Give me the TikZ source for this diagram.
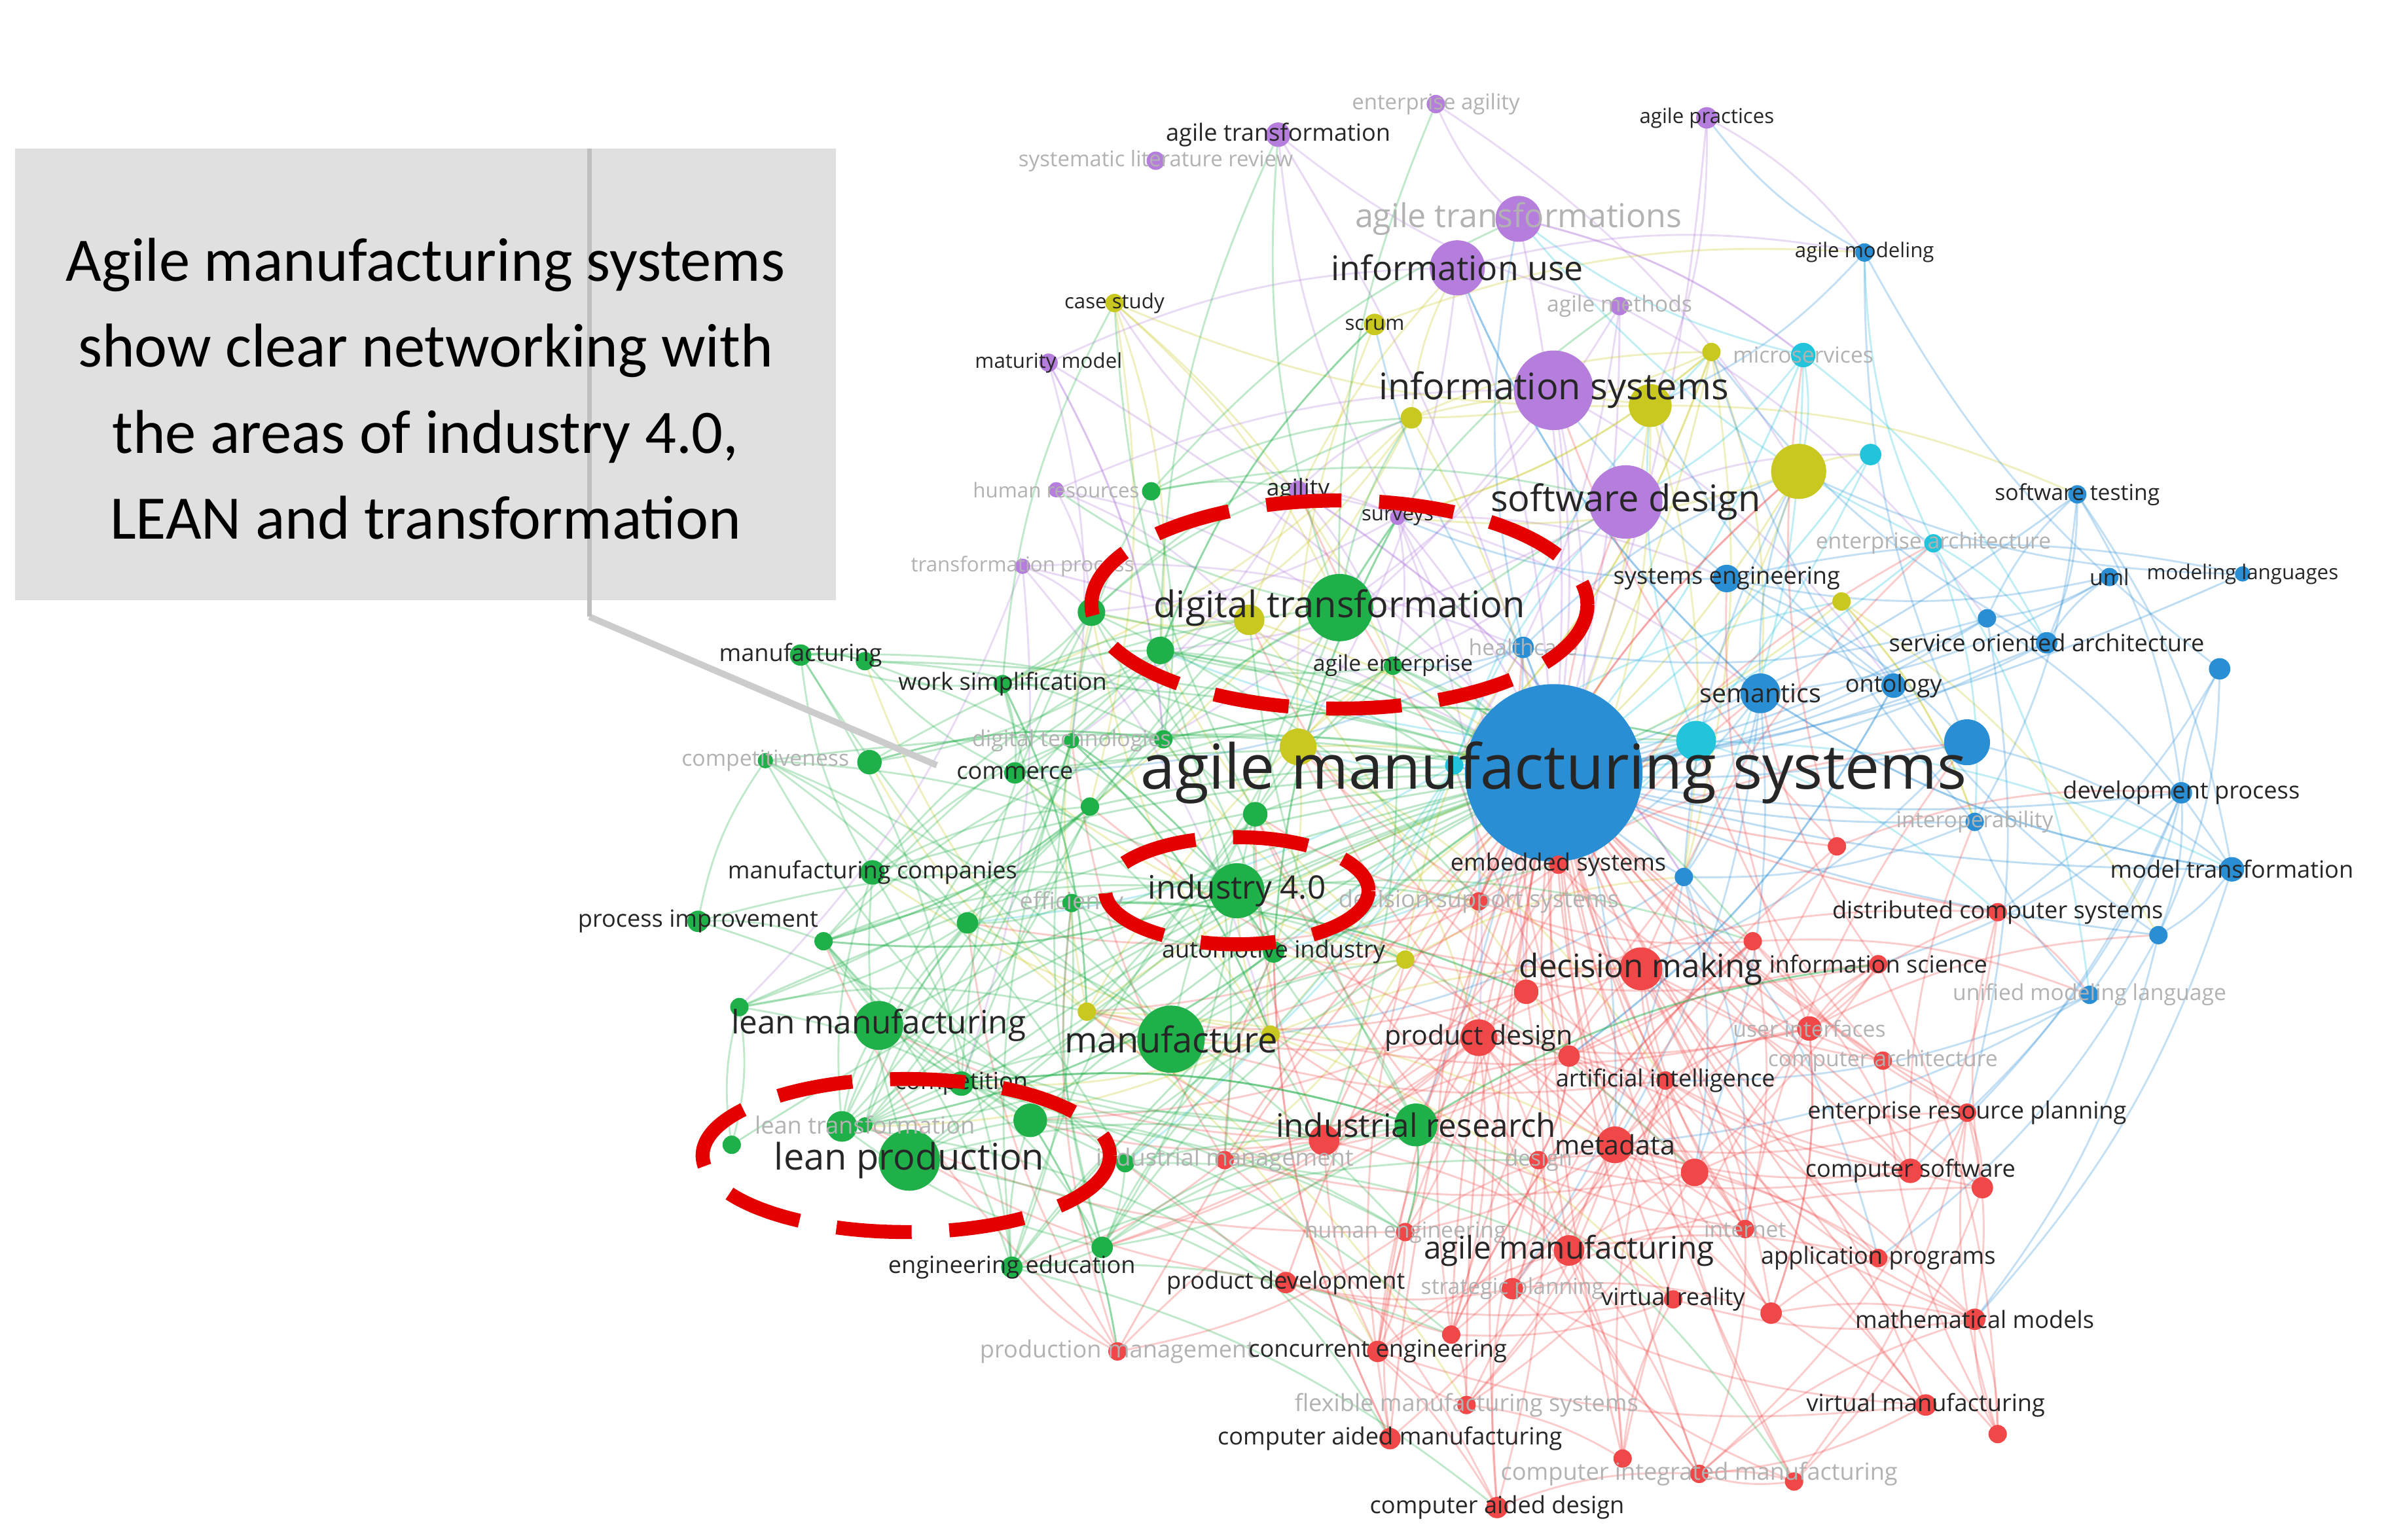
\documentclass[tikz,border=0pt]{standalone}
\usepackage{fontspec}
\setmainfont{Open Sans}
\newfontfamily\boxfont{Carlito}
\definecolor{cP}{HTML}{B57EDC}
\definecolor{cY}{HTML}{C8C820}
\definecolor{cC}{HTML}{22C4DC}
\definecolor{cB}{HTML}{2A8ED4}
\definecolor{cR}{HTML}{F04848}
\definecolor{cG}{HTML}{1FB04A}
\def\ff{f}
\def\kwlist{1015/505/58/cB/agile manufacturing systems/11.5/k,
835/88/8/cP/agile transformation/4.4/k, 938/68/6/cP/enterprise agility/4/f, 1115/77/7/cP/agile practices/3.8/k,
755/105/6/cP/systematic literature review/4/f, 992/143/15/cP/agile transformations/6.1/f, 952/175/18/cP/information use/6.3/k,
728/198/6/cY/case study/3.8/k, 898/212/7/cY/scrum/3.8/k, 1058/200/6/cP/agile methods/4.1/f, 685/237/6/cP/maturity model/3.8/k,
1015/255/26/cP/information systems/6.8/k, 1062/328/24/cP/software design/6.8/k, 848/320/6/cP/agility/4.3/k, 690/320/5/cP/human resources/3.8/f,
668/370/5/cP/transformation process/3.8/f, 913/338/5/cP/surveys/3.8/k,
1078/265/14/cY//4/k, 1175/308/18/cY//4/k, 922/273/7/cY//4/k, 1118/230/6/cY//4/k, 848/488/12/cY//4/k, 816/405/10/cY//4/k, 1203/393/6/cY//4/k, 918/627/6/cY//4/k, 710/661/6/cY//4/k, 830/676/6/cY//4/k,
1178/232/8/cC/microservices/4.1/f, 1222/297/7/cC//4/k, 1263/355/6/cC/enterprise architecture/4.1/f, 1108/484/13/cC//4/k, 950/500/6/cC//4/k,
1218/165/6/cB/agile modeling/3.8/k, 1357/323/6/cB/software testing/4.1/k, 1378/377/6/cB/uml/4.1/k, 1465/375/5/cB/modeling languages/3.8/k,
1128/378/9/cB/systems engineering/4.4/k, 1337/420/7/cB/service oriented architecture/4.4/k, 1298/404/6/cB//4/k, 1450/437/7/cB//4/k,
1150/453/13/cB/semantics/4.8/k, 1237/448/8/cB/ontology/4.4/k, 1285/485/15/cB//4/k, 1425/518/7/cB/development process/4.4/k,
1290/537/6/cB/interoperability/4.1/f, 1458/568/8/cB/model transformation/4.4/k, 1410/611/6/cB//4/k, 1365/650/6/cB/unified modeling language/4.1/f, 1100/573/6/cB//4/k, 995/423/7/cB/healthcare/4.1/f,
1018/565/6/cR/embedded systems/4.4/k, 966/589/6/cR/decision support systems/4.4/f, 1072/633/14/cR/decision making/6/k,
1305/596/6/cR/distributed computer systems/4.4/k, 1227/630/6/cR/information science/4.4/k, 1200/553/6/cR//4/k, 1145/615/6/cR//4/k,
966/678/12/cR/product design/5/k, 997/648/8/cR//4/k, 1088/706/6/cR/artificial intelligence/4.4/k, 1025/690/7/cR//4/k, 1182/672/8/cR/user interfaces/4.1/f,
1230/693/6/cR/computer architecture/4.1/f, 1285/727/6/cR/enterprise resource planning/4.4/k, 865/745/10/cR//4/k, 1055/748/12/cR/metadata/5/k,
1107/766/9/cR//4/k, 1248/765/8/cR/computer software/4.4/k, 1295/776/7/cR//4/k, 800/758/6/cR/industrial management/4.4/f, 1005/758/6/cR/design/4.1/f,
918/805/6/cR/human engineering/4.1/f, 1025/817/10/cR/agile manufacturing/5.8/k, 1140/803/6/cR/internet/4.1/f, 1227/822/6/cR/application programs/4.4/k,
840/838/7/cR/product development/4.4/k, 988/842/7/cR/strategic planning/4.1/f, 1093/849/6/cR/virtual reality/4.4/k, 1157/858/7/cR//4/k,
1290/862/7/cR/mathematical models/4.4/k, 730/883/6/cR/production management/4.4/f, 900/883/7/cR/concurrent engineering/4.4/k, 948/872/6/cR//4/k,
958/918/6/cR/flexible manufacturing systems/4.4/f, 1258/918/7/cR/virtual manufacturing/4.4/k, 1305/937/6/cR//4/k, 908/940/7/cR/computer aided manufacturing/4.4/k,
1060/953/6/cR//4/k, 1110/963/6/cR/computer integrated manufacturing/4.4/f, 1172/968/6/cR//4/k, 978/985/7/cR/computer aided design/4.4/k,
925/735/14/cG/industrial research/6/k,
523/428/7/cG/manufacturing/4.4/k, 565/432/6/cG//4/k, 655/447/6/cG/work simplification/4.4/k, 713/400/9/cG//4/k, 875/397/22/cG/digital transformation/6.8/k,
758/425/9/cG//4/k, 910/435/6/cG/agile enterprise/4.1/k, 752/321/6/cG//4/k, 568/498/8/cG//4/k, 663/505/7/cG/commerce/4.4/k, 712/527/6/cG//4/k,
820/532/8/cG//4/k, 760/483/6/cG//4/k, 700/484/5/cG/digital technologies/4.1/f, 570/570/8/cG/manufacturing companies/4.4/k, 808/582/18/cG/industry 4.0/6/k,
700/590/6/cG/efficiency/4.4/f, 632/603/7/cG//4/k, 456/602/7/cG/process improvement/4.4/k, 538/615/6/cG//4/k, 832/622/7/cG/automotive industry/4.4/k,
483/658/6/cG//4/k, 574/670/16/cG/lean manufacturing/6/k, 765/679/22/cG/manufacture/6.6/k, 628/708/8/cG/competition/4.4/k, 550/736/10/cG//4/k,
565/735/5/cG/lean transformation/4.4/f, 673/732/11/cG//4/k, 594/758/20/cG/lean production/6.8/k, 478/748/6/cG//4/k, 720/815/7/cG//4/k,
661/828/7/cG/engineering education/4.4/k, 735/760/6/cG//4/k, 500/497/5/cG/competitiveness/4.1/f}
\begin{document}
\begin{tikzpicture}[x=0.01cm,y=-0.01cm,
  lbl/.style={inner sep=0pt,text=black!85},
  fade/.style={text=black!30},
  dashell/.style={draw=red!90!black,line width=2.6pt,dash pattern=on 14pt off 7pt}]
\useasboundingbox (0,0) rectangle (1560,1006);
\fill[white] (0,0) rectangle (1560,1006);
\pgfmathsetseed{11}
\foreach [count=\i] \x/\y/\r/\c/\l/\s/\f in \kwlist {
  \coordinate (k\i) at (\x,\y);
  \expandafter\xdef\csname kx\i\endcsname{\x}
  \expandafter\xdef\csname ky\i\endcsname{\y}
  \expandafter\xdef\csname kc\i\endcsname{\c}
  \xdef\N{\i}
}
% connectors
\foreach \i in {2,...,\N} {
  \pgfmathrandominteger{\h}{0}{3}
  \ifnum\h>0 \draw[draw=\csname kc\i\endcsname,opacity=0.3,line width=0.35pt] (k\i) to[bend left=8] (k1); \fi
  \foreach \t in {1,...,12} {
    \pgfmathrandominteger{\j}{1}{\N}
    \pgfmathsetmacro\d{veclen(\csname kx\i\endcsname-\csname kx\j\endcsname,\csname ky\i\endcsname-\csname ky\j\endcsname)}
    \ifdim\d pt<360pt
      \draw[draw=\csname kc\i\endcsname,opacity=0.28,line width=0.35pt] (k\i) to[bend left=12] (k\j);
    \fi
  }
}
% nodes
\foreach [count=\i] \x/\y/\r/\c/\l/\s/\f in \kwlist {
  \fill[\c] (k\i) circle (\r);
}
\foreach [count=\i] \x/\y/\r/\c/\l/\s/\f in \kwlist {
  \ifx\f\ff
    \node[lbl,fade,font=\fontsize{\s}{\s}\selectfont] at (k\i) {\l};
  \else
    \node[lbl,font=\fontsize{\s}{\s}\selectfont] at (k\i) {\l};
  \fi
}
% dashed ellipses
\draw[dashell] (875,395) ellipse (162 and 68);
\draw[dashell] (808,582) ellipse (86 and 35);
\draw[dashell] (592,755) ellipse (133 and 50);
% text box
\coordinate (pt) at (612,500);
\coordinate (pb) at (385,403);
\draw[black!20,line width=1.2pt] (pb) -- (pt);
\fill[black!12] (10,97) rectangle (546,392);
\draw[black!25,line width=0.8pt] (385,97) -- (pb);
\node[font=\boxfont\fontsize{11.5}{16}\selectfont,align=center] (box) at (278,254)
  {Agile manufacturing systems\\show clear networking with\\the areas of industry 4.0,\\LEAN and transformation};
\end{tikzpicture}
\end{document}
